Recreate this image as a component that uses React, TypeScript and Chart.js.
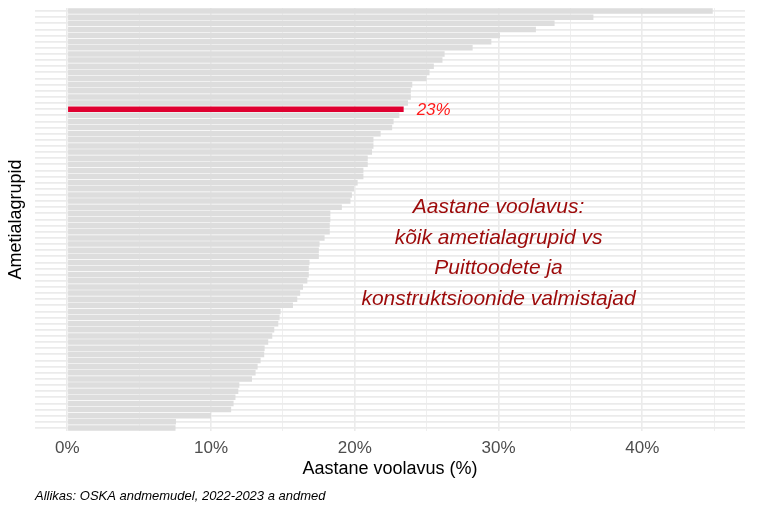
import { useEffect, useRef } from "react";
import { Chart, registerables } from "chart.js";

Chart.register(...registerables);

const categories = [
  "Ametialagrupp 01", "Ametialagrupp 02", "Ametialagrupp 03", "Ametialagrupp 04", "Ametialagrupp 05",
  "Ametialagrupp 06", "Ametialagrupp 07", "Ametialagrupp 08", "Ametialagrupp 09", "Ametialagrupp 10",
  "Ametialagrupp 11", "Ametialagrupp 12", "Ametialagrupp 13", "Ametialagrupp 14", "Ametialagrupp 15",
  "Ametialagrupp 16", "Puittoodete ja konstruktsioonide valmistajad", "Ametialagrupp 18", "Ametialagrupp 19", "Ametialagrupp 20",
  "Ametialagrupp 21", "Ametialagrupp 22", "Ametialagrupp 23", "Ametialagrupp 24", "Ametialagrupp 25",
  "Ametialagrupp 26", "Ametialagrupp 27", "Ametialagrupp 28", "Ametialagrupp 29", "Ametialagrupp 30",
  "Ametialagrupp 31", "Ametialagrupp 32", "Ametialagrupp 33", "Ametialagrupp 34", "Ametialagrupp 35",
  "Ametialagrupp 36", "Ametialagrupp 37", "Ametialagrupp 38", "Ametialagrupp 39", "Ametialagrupp 40",
  "Ametialagrupp 41", "Ametialagrupp 42", "Ametialagrupp 43", "Ametialagrupp 44", "Ametialagrupp 45",
  "Ametialagrupp 46", "Ametialagrupp 47", "Ametialagrupp 48", "Ametialagrupp 49", "Ametialagrupp 50",
  "Ametialagrupp 51", "Ametialagrupp 52", "Ametialagrupp 53", "Ametialagrupp 54", "Ametialagrupp 55",
  "Ametialagrupp 56", "Ametialagrupp 57", "Ametialagrupp 58", "Ametialagrupp 59", "Ametialagrupp 60",
  "Ametialagrupp 61", "Ametialagrupp 62", "Ametialagrupp 63", "Ametialagrupp 64", "Ametialagrupp 65",
  "Ametialagrupp 66", "Ametialagrupp 67", "Ametialagrupp 68", "Ametialagrupp 69",
];

const values = [
  44.9, 36.6, 33.9, 32.6, 30.1, 29.5, 28.2, 26.25, 26.1, 25.5,
  25.2, 25.0, 24.0, 23.9, 23.9, 23.7, 23.4, 23.1, 22.7, 22.6,
  21.8, 21.3, 21.3, 21.2, 20.9, 20.9, 20.6, 20.6, 20.2, 19.95,
  19.8, 19.7, 19.1, 18.3, 18.3, 18.26, 18.26, 17.9, 17.55, 17.5,
  17.5, 16.85, 16.8, 16.8, 16.7, 16.4, 16.2, 16.0, 15.7, 14.84,
  14.77, 14.68, 14.4, 14.26, 13.98, 13.73, 13.7, 13.45, 13.24, 13.1,
  12.85, 11.97, 11.9, 11.7, 11.57, 11.4, 10.0, 7.56, 7.53,
];

const highlightName = "Puittoodete ja konstruktsioonide valmistajad";
const highlightLabel = "23%";
const annotationLines = [
  "Aastane voolavus:",
  "kõik ametialagrupid vs",
  "Puittoodete ja",
  "konstruktsioonide valmistajad",
];
const caption = "Allikas: OSKA andmemudel, 2022-2023 a andmed";
const xTitle = "Aastane voolavus (%)";
const yTitle = "Ametialagrupid";

const FONT = "'Liberation Sans', Arial, sans-serif";

export default function App() {
  const ref = useRef<HTMLCanvasElement | null>(null);

  useEffect(() => {
    if (!ref.current) return;
    const hi = categories.indexOf(highlightName);
    const maxV = Math.max(...values);
    const pad = maxV * 0.05;

    const overlay = {
      id: "overlay",
      afterDraw(chart: any) {
        const ctx = chart.ctx;
        const xs = chart.scales.x;
        const meta = chart.getDatasetMeta(0);
        ctx.save();
        const el = meta.data[hi];
        if (el) {
          ctx.font = `italic 17px ${FONT}`;
          ctx.fillStyle = "#ff1a1a";
          ctx.textAlign = "left";
          ctx.textBaseline = "middle";
          ctx.fillText(highlightLabel, el.x + 13, el.y + 1);
        }
        ctx.font = `italic 21px ${FONT}`;
        ctx.fillStyle = "#9c0a0a";
        ctx.textAlign = "center";
        ctx.textBaseline = "middle";
        const ax = xs.getPixelForValue(30);
        annotationLines.forEach((t, i) => {
          ctx.fillText(t, ax, 207 + i * 30.8);
        });
        ctx.font = `italic 13px ${FONT}`;
        ctx.fillStyle = "#000000";
        ctx.textAlign = "left";
        ctx.fillText(caption, 35, 496);
        ctx.restore();
      },
    };

    const chart = new Chart(ref.current, {
      type: "bar",
      data: {
        labels: categories,
        datasets: [
          {
            data: values,
            backgroundColor: (c: any) => (c.dataIndex === hi ? "#df0030" : "#dddddd"),
            barPercentage: 0.9,
            categoryPercentage: 1.0,
            borderWidth: 0,
          },
        ],
      },
      options: {
        indexAxis: "y",
        animation: false,
        responsive: true,
        maintainAspectRatio: false,
        layout: { padding: { left: 4, right: 23, top: 8, bottom: 32 } },
        plugins: { legend: { display: false }, tooltip: { enabled: false } },
        scales: {
          x: {
            type: "linear",
            min: -pad,
            max: maxV + pad,
            border: { display: false },
            grid: {
              color: "#ebebeb",
              lineWidth: (c: any) => (c.tick && c.tick.value % 10 === 0 ? 1.6 : 0.8),
              drawTicks: false,
            },
            ticks: {
              stepSize: 5,
              includeBounds: false,
              autoSkip: false,
              maxRotation: 0,
              padding: 7,
              color: "#4d4d4d",
              font: { family: FONT, size: 17 },
              callback: (v: any) => (Number(v) % 10 === 0 ? `${v}%` : ""),
            },
            title: {
              display: true,
              text: xTitle,
              color: "#000000",
              font: { family: FONT, size: 18 },
              padding: { top: -7, bottom: 0 },
            },
          },
          y: {
            type: "category",
            offset: true,
            border: { display: false },
            grid: { color: "#ebebeb", lineWidth: 1.8, offset: false, drawTicks: false },
            ticks: { display: false },
            title: {
              display: true,
              text: yTitle,
              color: "#000000",
              font: { family: FONT, size: 18 },
              padding: { top: 1, bottom: 8.4 },
            },
          },
        },
      },
      plugins: [overlay],
    });
    return () => chart.destroy();
  }, []);

  return (
    <div style={{ position: "fixed", left: 0, top: 0, width: 768, height: 512, background: "#fff" }}>
      <canvas ref={ref} />
    </div>
  );
}
